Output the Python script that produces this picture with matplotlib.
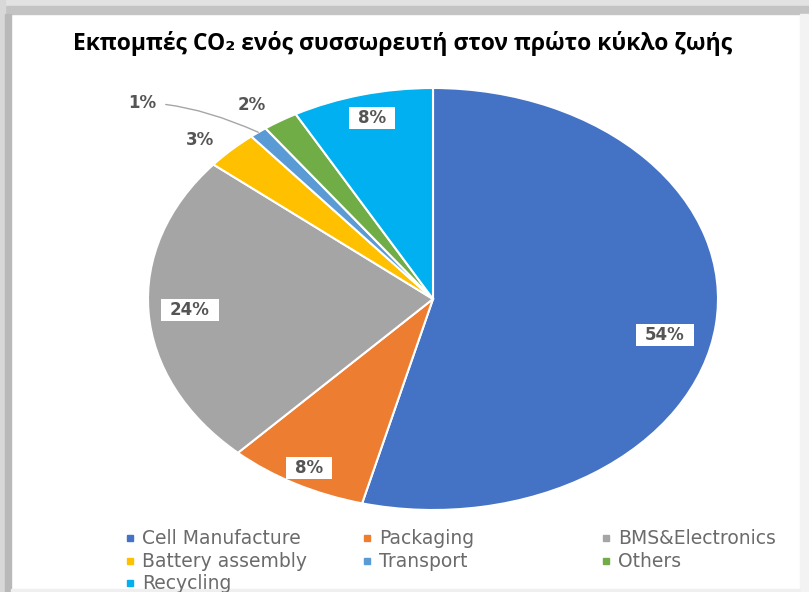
import matplotlib
matplotlib.use("Agg")
import matplotlib.pyplot as plt
from matplotlib.patches import Rectangle
from matplotlib.lines import Line2D
from matplotlib.path import Path
import numpy as np

categories = ["Cell Manufacture", "Packaging", "BMS&Electronics", "Battery assembly",
              "Transport", "Others", "Recycling"]
shares = [54, 8, 24, 3, 1, 2, 8]
colors = ["#4472C4", "#ED7D31", "#A5A5A5", "#FFC000", "#5B9BD5", "#70AD47", "#00B0F0"]
title = "Εκπομπές CO₂ ενός συσσωρευτή στον πρώτο κύκλο ζωής"

# label placement: distance from centre and angular nudge (deg) from the wedge middle
label_dist = [0.832, 0.911, 0.855, 1.112, 1.39, 1.117, 0.884]
label_nudge = [-4.7, 0.3, -0.1, 2.3, 0.0, 2.2, -0.4]
boxed = [True, True, True, False, False, False, True]

W, H = 809, 592
fig = plt.figure(figsize=(W / 100, H / 100), dpi=100)
fig.patch.set_facecolor("white")


def band(x0, y0, x1, y1, c):
    fig.patches.append(Rectangle((x0 / W, 1 - y1 / H), (x1 - x0) / W, (y1 - y0) / H,
                                 transform=fig.transFigure, color=c, zorder=0))


# grey frame round the white panel
band(0, 0, W, 6, "#e2e2e2")
band(0, 6, W, 14, "#c4c4c4")
band(0, 0, 5, H, "#d8d8d8")
band(5, 14, 11, H, "#b9b9b9")
band(800, 14, W, H, "#f3f3f3")
band(11, 589, 800, H, "#efefef")

fig.text(403 / W, 1 - 50 / H, title, ha="center", va="baseline",
         fontsize=16.5, fontweight="bold", family=["Open Sans", "DejaVu Sans"], color="black")


def label_box(x0, y0, width, height, mutation_size):
    # white box, wider than it is tall
    px, py = 0.55 * mutation_size, 0.12 * mutation_size
    x0, y0 = x0 - px, y0 - py
    x1, y1 = x0 + width + 2 * px, y0 + height + 2 * py
    return Path([(x0, y0), (x1, y0), (x1, y1), (x0, y1), (x0, y0)],
                [Path.MOVETO, Path.LINETO, Path.LINETO, Path.LINETO, Path.CLOSEPOLY])


# pie axes stretched to an ellipse
cx, cy, rx, ry = 433, 299, 285, 211
ax = fig.add_axes([(cx - rx) / W, 1 - (cy + ry) / H, 2 * rx / W, 2 * ry / H])
wedges, _ = ax.pie(shares, colors=colors, startangle=90, counterclock=False,
                   wedgeprops=dict(edgecolor="white", linewidth=1.5))
ax.set_aspect("auto")
ax.set_xlim(-1, 1)
ax.set_ylim(-1, 1)
ax.axis("off")

for w, v, d, nd, b, name in zip(wedges, shares, label_dist, label_nudge, boxed, categories):
    mid = np.deg2rad((w.theta1 + w.theta2) / 2)
    ang = mid + np.deg2rad(nd)
    x, y = d * np.cos(ang), d * np.sin(ang)
    kw = dict(ha="center", va="center", fontsize=12, fontweight="bold",
              family="DejaVu Sans", color="#555555", zorder=5)
    if b:
        kw["bbox"] = dict(boxstyle=label_box, fc="white", ec="none")
    if name == "Transport":
        ax.annotate(f"{v}%", xy=(np.cos(mid), np.sin(mid)), xytext=(-1.021, 0.929),
                    arrowprops=dict(arrowstyle="-", color="#a6a6a6", lw=1,
                                    connectionstyle="angle3,angleA=0,angleB=-24",
                                    shrinkA=5, shrinkB=0),
                    **kw)
    else:
        ax.text(x, y, f"{v}%", **kw)

# legend, three entries per row
col_x = [130, 367, 606]
row_y = [538, 561, 583]
for k, (name, c) in enumerate(zip(categories, colors)):
    bx, by = col_x[k % 3], row_y[k // 3]
    fig.add_artist(Line2D([bx / W], [1 - by / H], transform=fig.transFigure,
                          marker="s", markersize=4, ls="none", color=c))
    fig.text((bx + 12) / W, 1 - (by + 6) / H, name, ha="left", va="baseline",
             fontsize=13.5, family="DejaVu Sans", color="#6b6b6b")

fig.savefig("out.png", dpi=100)
